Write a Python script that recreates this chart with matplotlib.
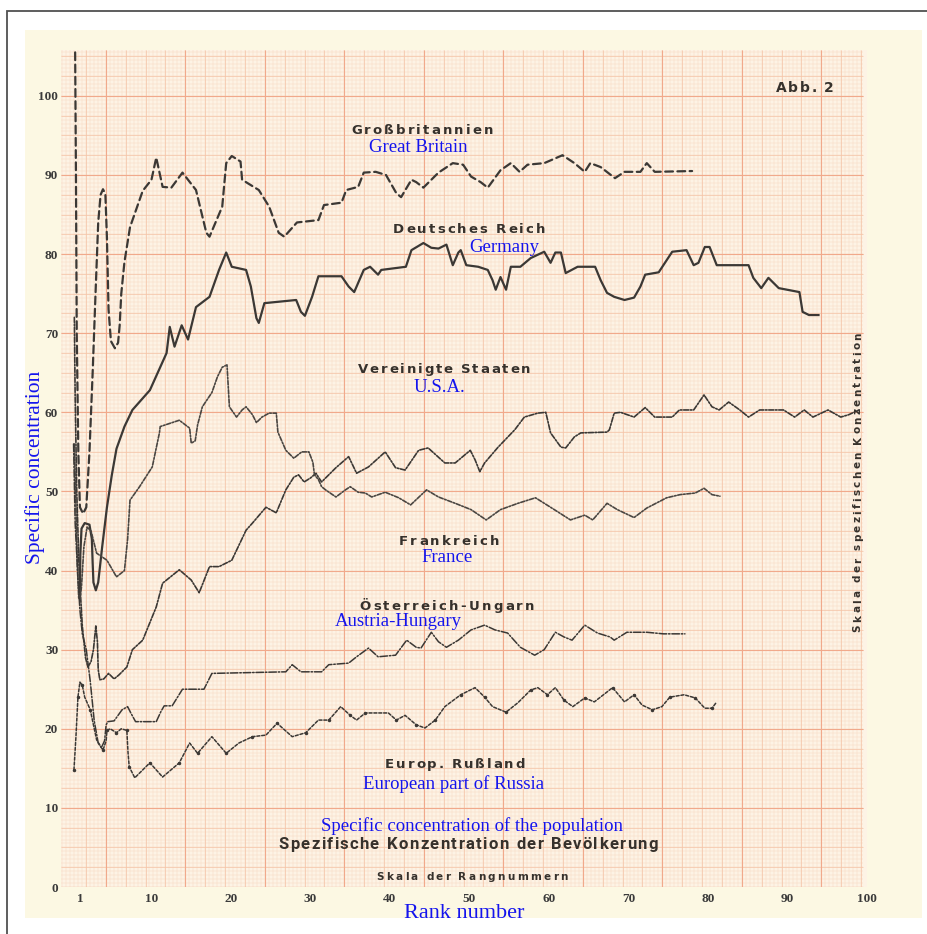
import numpy as np
import matplotlib
matplotlib.use("Agg")
import matplotlib.pyplot as plt
from matplotlib.patches import Rectangle
from matplotlib.font_manager import FontProperties

W, H = 928, 934

# rank number -> specific concentration
gb_rank = [0.4, 0.5, 0.6, 0.8, 1.0, 1.4, 1.8, 2.2, 2.6, 3.0, 3.3, 3.6, 3.9, 4.2, 4.4, 4.6, 4.9, 5.4,
           5.8, 6.0, 6.2, 6.6, 7.3, 8.9, 10.0, 10.6, 11.4, 12.5, 13.9, 15.6, 16.9, 17.3, 18.9, 19.4,
           20.1, 21.2, 21.4, 23.5, 24.8, 26.0, 26.7, 28.3, 31.0, 31.7, 33.9, 34.5, 36.0, 36.7, 38.2,
           39.5, 40.8, 41.4, 42.7, 43.3, 44.2, 46.1, 47.9, 49.2, 50.2, 51.4, 52.3, 53.9, 55.2, 56.3,
           57.3, 59.4, 61.7, 63.2, 64.5, 65.2, 66.5, 68.3, 69.5, 71.5, 72.3, 73.3, 78.0]
gb_conc = [105.5, 90, 70, 55, 48, 47.2, 48, 55, 65, 76, 84, 87.5, 88.2, 87.6, 82, 73, 69, 68.1,
           68.8, 71, 75, 79, 83.4, 88, 89.4, 92.2, 88.5, 88.4, 90.3, 88.1, 82.7, 82.2, 86, 91.5,
           92.4, 91.7, 89.4, 88.1, 86, 82.7, 82.2, 84, 84.3, 86.2, 86.5, 88.1, 88.5, 90.3, 90.4,
           90, 87.7, 87.2, 89.4, 89.1, 88.4, 90.3, 91.5, 91.3, 89.8, 89.1, 88.4, 90.6, 91.5, 90.4,
           91.3, 91.5, 92.5, 91.5, 90.4, 91.5, 91, 89.6, 90.4, 90.4, 91.5, 90.4, 90.5]

de_rank = [1.0, 1.05, 1.2, 1.6, 2.2, 2.5, 2.6, 2.7, 3.0, 3.3, 3.8, 4.4, 5.0, 5.6, 6.6, 7.6, 9.8,
           11.9, 12.3, 12.9, 13.8, 14.6, 15.6, 17.3, 18.5, 19.4, 20.1, 21.9, 22.5, 23.2, 23.5, 24.2,
           28.2, 28.8, 29.3, 30.2, 31.0, 33.9, 34.8, 35.5, 36.7, 37.5, 38.5, 38.9, 42.0, 42.7, 44.2,
           45.2, 46.1, 47.1, 47.9, 48.6, 48.9, 49.6, 51.1, 52.3, 52.9, 53.3, 53.9, 54.6, 55.2, 56.4,
           57.7, 59.4, 60.2, 60.8, 61.5, 62.1, 63.6, 65.8, 66.5, 67.3, 68.2, 69.5, 70.7, 71.5, 72.1,
           73.8, 75.5, 77.3, 78.2, 78.8, 79.6, 80.2, 81.1, 85.1, 85.7, 86.7, 87.6, 88.9, 91.5, 91.9,
           92.7, 93.9]
de_conc = [37, 42, 45.3, 46, 45.8, 44, 41, 38.5, 37.5, 38.5, 43, 48, 52, 55.4, 58.2, 60.3, 62.8,
           67.5, 70.8, 68.3, 71, 69.2, 73.3, 74.6, 78, 80.2, 78.4, 78, 75.9, 71.9, 71.3, 73.8,
           74.2, 72.7, 72.2, 74.6, 77.2, 77.2, 75.9, 75.2, 78, 78.4, 77.4, 78, 78.4, 80.5, 81.4,
           80.8, 80.7, 81.2, 78.6, 80.2, 80.5, 78.6, 78.4, 78, 76.7, 75.5, 77.1, 75.5, 78.4, 78.4,
           79.5, 80.3, 78.9, 80.2, 80.2, 77.6, 78.4, 78.4, 76.7, 75.1, 74.6, 74.2, 74.5, 75.9, 77.4,
           77.7, 80.3, 80.5, 78.6, 78.9, 80.9, 80.9, 78.6, 78.6, 77, 75.7, 77, 75.7, 75.2, 72.7,
           72.3, 72.3]

us_rank = [0.3, 0.4, 0.6, 0.9, 1.3, 1.7, 2.0, 2.4, 2.7, 3.0, 3.2, 3.3, 3.5, 4.0, 4.6, 5.3, 5.9,
           6.9, 7.6, 8.9, 10.6, 11.4, 13.5, 15.0, 16.0, 17.3, 18.5, 20.1, 21.9, 22.7, 24.4, 25.7,
           26.9, 27.9, 28.5, 29.2, 30.0, 30.7, 31.0, 31.4, 33.2, 34.8, 35.8, 37.3, 39.4, 40.7, 41.9,
           43.6, 44.8, 46.9, 48.2, 50.1, 50.7, 51.3, 51.9, 53.6, 55.7, 56.9, 58.6, 59.6, 60.2, 61.5,
           62.1, 63.2, 64.0, 67.3, 67.6, 68.2, 69.0, 70.7, 72.1, 73.3, 75.5, 76.4, 78.2, 79.5, 80.5,
           81.4, 82.6, 84.0, 85.1, 86.5, 89.5, 90.9, 92.1, 93.2, 95.1, 96.7, 97.7, 99.0]
us_conc = [72, 62, 50, 40, 33, 29, 27.8, 28.5, 30, 33, 31, 27.5, 26.2, 26.3, 27, 26.3, 26.8,
           27.8, 30, 31.2, 35.4, 38.4, 40.1, 38.8, 37.2, 40.5, 40.5, 41.3, 45.1, 46, 48, 47.3,
           50.2, 51.8, 52.1, 51.2, 51.7, 52.3, 51.8, 51.2, 53, 54.4, 52.3, 53.1, 55, 53, 52.7,
           55.2, 55.5, 53.6, 53.6, 55.2, 54, 52.5, 53.6, 55.6, 57.8, 59.4, 59.9, 60, 57.4, 55.6,
           55.5, 56.9, 57.4, 57.5, 57.8, 59.9, 60, 59.4, 60.6, 59.4, 59.4, 60.3, 60.3, 62.2, 60.7,
           60.3, 61.3, 60.3, 59.4, 60.3, 60.3, 59.4, 60.3, 59.4, 60.3, 59.4, 59.7, 60.3]

fr_rank = [0.3, 0.5, 0.7, 0.85, 1.0, 1.2, 1.5, 1.9, 2.4, 2.9, 3.1, 4.4, 5.6, 6.6, 7.0, 7.3, 8.5,
           10.1, 11.0, 11.1, 13.5, 14.8, 15.0, 15.5, 15.8, 16.4, 17.6, 18.3, 18.9, 19.5, 19.8, 20.7,
           21.4, 21.9, 22.7, 23.2, 23.9, 24.8, 25.7, 25.9, 26.9, 27.9, 28.9, 29.8, 30.3, 30.5, 31.0,
           31.4, 31.9, 33.2, 34.4, 35.0, 36.0, 36.9, 37.7, 39.4, 41.1, 42.6, 44.6, 46.1, 48.2, 50.2,
           52.1, 53.9, 56.1, 58.3, 60.2, 62.7, 64.5, 65.5, 67.3, 68.6, 70.7, 72.3, 74.8, 76.5, 78.4,
           79.5, 80.5, 81.5]
fr_conc = [56, 48, 40, 36.5, 36.3, 38, 43, 45.5, 45, 43, 42.2, 41.3, 39.2, 40, 44, 48.9, 50.6,
           53.1, 57.4, 58.2, 59, 58, 56.1, 56.4, 58.4, 60.7, 62.5, 64.5, 65.7, 66, 60.7, 59.4,
           60.3, 60.7, 59.7, 58.7, 59.4, 59.9, 59.9, 57.5, 55.2, 54.2, 55, 55, 53.7, 52.1, 51.5,
           50.6, 50.2, 49.3, 50.2, 50.6, 49.9, 49.8, 49.3, 49.9, 49.2, 48.3, 50.2, 49.3, 48.5, 47.7,
           46.4, 47.7, 48.5, 49.2, 48, 46.4, 47, 46.4, 48.5, 47.7, 46.7, 47.9, 49.2, 49.6, 49.8,
           50.4, 49.6, 49.4]

at_rank = [0.2, 0.4, 0.7, 1.0, 1.3, 1.8, 2.3, 2.8, 3.3, 3.7, 4.1, 4.3, 4.5, 5.3, 6.3, 7.0, 7.4,
           8.0, 10.6, 11.2, 11.6, 12.6, 13.9, 16.6, 17.6, 26.9, 27.7, 28.8, 31.4, 32.3, 34.8, 35.8,
           37.3, 38.5, 40.7, 42.1, 43.3, 43.9, 45.2, 46.1, 47.1, 48.6, 50.2, 51.9, 53.2, 54.8, 56.4,
           58.2, 59.4, 60.8, 61.9, 62.9, 64.5, 66.1, 67.7, 68.2, 69.8, 72.3, 74.4, 77.1]
at_conc = [56, 46, 40, 35, 32, 30, 26, 21, 18.2, 17.6, 18.5, 20.5, 20.9, 21, 22.4, 22.8, 22,
           20.9, 20.9, 22.2, 22.9, 22.9, 25, 25, 27, 27.2, 28.1, 27.2, 27.2, 28.1, 28.3, 29.1,
           30.2, 29.1, 29.3, 31.2, 30.3, 30.2, 32.2, 31, 30.3, 31.2, 32.5, 33.1, 32.5, 32.1, 30.3,
           29.3, 30, 32.2, 31.6, 31.2, 33.1, 32.1, 31.6, 31.2, 32.2, 32.2, 32, 32]

ru_rank = [0.25, 0.5, 0.75, 1.0, 1.3, 1.6, 2.3, 3.1, 3.9, 4.3, 4.4, 4.8, 5.6, 6.2, 6.9, 7.05, 7.2,
           7.9, 9.8, 11.4, 13.5, 14.8, 15.8, 17.6, 19.4, 21.0, 22.7, 24.4, 25.8, 27.7, 29.4, 31.0,
           32.3, 33.8, 35.0, 35.8, 36.9, 39.8, 40.8, 41.9, 43.3, 44.4, 45.7, 46.9, 48.9, 50.7, 51.9,
           52.9, 54.6, 56.1, 57.7, 58.6, 59.8, 60.8, 61.9, 63.0, 64.5, 65.7, 68.0, 69.5, 70.7, 71.7,
           73.0, 74.2, 75.2, 77.0, 78.4, 79.6, 80.5, 81.1]
ru_conc = [14.8, 19, 24, 25.9, 25.5, 24, 22.4, 18.6, 17.3, 18.5, 19.8, 20, 19.5, 20, 19.8, 17, 15.2,
           13.8, 15.7, 13.9, 15.7, 18.2, 16.9, 19, 16.9, 18.2, 19, 19.2, 20.7, 19, 19.5, 21.1,
           21.1, 22.8, 21.7, 21.1, 22, 22, 21.1, 21.7, 20.5, 20.1, 21.1, 22.8, 24.3, 25.2, 24,
           22.8, 22.1, 23.3, 24.9, 25.2, 24.3, 25.2, 23.6, 22.8, 23.9, 23.4, 25.2, 23.4, 24.3, 23,
           22.4, 22.8, 24, 24.3, 23.9, 22.6, 22.6, 23.4]

y_ticks = [0, 10, 20, 30, 40, 50, 60, 70, 80, 90, 100]
x_ticks = [1, 10, 20, 30, 40, 50, 60, 70, 80, 90, 100]

ink = '#3b3835'
blue = '#1414ee'

fig = plt.figure(figsize=(W / 100, H / 100), dpi=100, facecolor='white')
renderer = fig.canvas.get_renderer()

# frame and paper of the scan, kept behind the axes
fig.patches.append(Rectangle((7 / W, -0.1), 2, 1.1 - 11 / H, transform=fig.transFigure,
                             fill=False, ec='#505050', lw=1.3, zorder=-5))
fig.patches.append(Rectangle((25 / W, 1 - 918 / H), 897 / W, 888 / H, transform=fig.transFigure,
                             fc='#fcf8e3', ec='none', zorder=-6))

xlo, xhi = -1.38, 99.5
ytop = 105.8
ax = fig.add_axes([61 / W, 1 - 887 / H, 806 / W, 837 / H])
ax.set_facecolor('#fdf3e5')
ax.set_xlim(xlo, xhi)
ax.set_ylim(0, ytop)

# graph paper
xf = np.arange(-1.25, xhi, 0.5)
yf = np.arange(0, ytop, 0.5)
ax.vlines(xf, 0, ytop, color='#f8d8c2', lw=0.35, zorder=0)
ax.hlines(yf, xlo, xhi, color='#f8d8c2', lw=0.35, zorder=0)
ax.vlines(np.arange(1.75, xhi, 2.5), 0, ytop, color='#f5c4a8', lw=0.5, zorder=0)
ax.hlines(np.arange(2.5, ytop, 2.5), xlo, xhi, color='#f5c4a8', lw=0.5, zorder=0)
ax.vlines(np.arange(4.25, xhi, 10), 0, ytop, color='#f1a98b', lw=0.8, zorder=0)
ax.hlines(np.arange(0, ytop, 10), xlo, xhi, color='#f1a98b', lw=0.8, zorder=0)

style = dict(solid_joinstyle='round', dash_joinstyle='round', dash_capstyle='round')
ax.plot(gb_rank, gb_conc, color=ink, lw=1.6, dashes=(3.5, 2), **style)
ax.plot(de_rank, de_conc, color=ink, lw=1.6, **style)
ax.plot(us_rank, us_conc, color=ink, lw=1.2, dashes=(3, 1, 1, 1), **style)
ax.plot(fr_rank, fr_conc, color='#4a4642', lw=1.2, dashes=(2.5, 1, 1, 1), **style)
ax.plot(at_rank, at_conc, color=ink, lw=1.1, dashes=(5, 1.2, 1, 1.2), **style)
ax.plot(ru_rank, ru_conc, color=ink, lw=1.1, dashes=(2, 1.2), marker='.', ms=3, markevery=2, **style)

ax.set_xticks(x_ticks)
ax.set_yticks(y_ticks)
ax.set_xticklabels([str(t) for t in x_ticks])
ax.tick_params(length=0, labelsize=9.5, labelcolor='#3a3a3a', pad=4)
ax.tick_params(axis='y', pad=2)
for lab in ax.get_xticklabels() + ax.get_yticklabels():
    lab.set_fontfamily('Liberation Serif')
    lab.set_fontweight('bold')
for s in ax.spines.values():
    s.set_visible(False)


def spaced(s, xc, yc, width, size, rot=0, family='DejaVu Sans'):
    # letter-spaced caption like the printed original, placed in pixel coords
    fp = FontProperties(family=family, weight='bold', size=size)
    em = size * 100 / 72
    ws = [em * 0.32 if c == ' ' else renderer.get_text_width_height_descent(c, fp, ismath=False)[0]
          for c in s]
    gap = (width - sum(ws)) / (len(s) - 1)
    cap = em * 0.72
    pos = -width / 2
    for c, w in zip(s, ws):
        mid = pos + w / 2
        if rot == 0:
            x, y = xc + mid, yc + cap / 2
        else:
            x, y = xc + cap / 2, yc - mid
        fig.text(x / W, 1 - y / H, c, fontproperties=fp, color='#36312c', ha='center',
                 va='baseline', rotation=rot, rotation_mode='anchor')
        pos += w + gap


def note(s, xc, yc, size=13.5, rot=0):
    fig.text(xc / W, 1 - yc / H, s, family='Liberation Serif', size=size, color=blue,
             ha='center', va='center', rotation=rot)


spaced('Abb. 2', 805, 87, 58, 10)
spaced('Großbritannien', 422, 129, 142, 9.5)
spaced('Deutsches Reich', 469, 228, 152, 9.5)
spaced('Vereinigte Staaten', 444, 368, 173, 9.5)
spaced('Frankreich', 449, 540, 100, 9.5)
spaced('Österreich-Ungarn', 447, 605, 175, 9.5)
spaced('Europ. Rußland', 455, 763, 140, 9.5)
spaced('Spezifische Konzentration der Bevölkerung', 468, 843, 379, 12, family='Roboto')
spaced('Skala der Rangnummern', 472, 876, 191, 7.5)
spaced('Skala der spezifischen Konzentration', 857, 482, 299, 7.5, rot=90)

note('Great Britain', 418, 147)
note('Germany', 504, 247)
note('U.S.A.', 439, 387)
note('France', 447, 558)
note('Austria-Hungary', 398, 622)
note('European part of Russia', 454, 784)
note('Specific concentration of the population', 472, 826)
note('Rank number', 464, 914, size=16)
note('Specific concentration', 35, 467, size=15.5, rot=90)

fig.savefig('out.png', dpi=100, facecolor='white')
